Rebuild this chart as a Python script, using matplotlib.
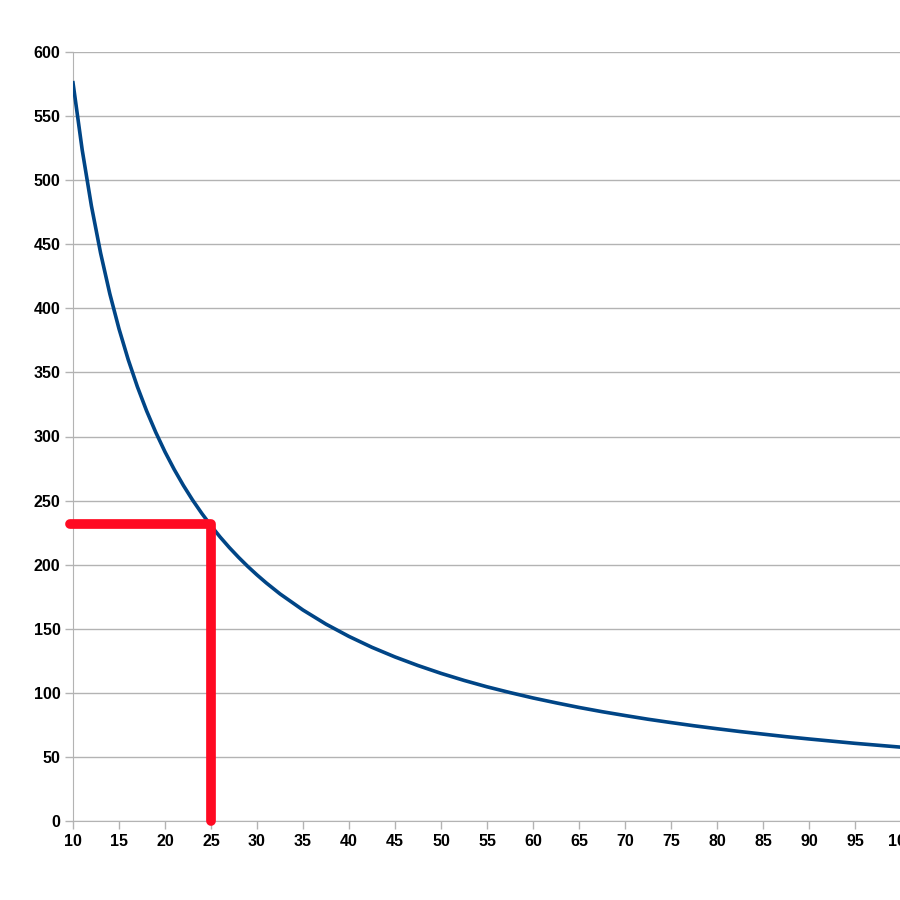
import matplotlib.pyplot as plt

# data
x_vals = [10, 11, 12, 13, 14, 15, 16, 17, 18, 19, 20, 21, 22, 23, 24, 25, 26, 27, 28, 29,
          30, 31, 32.5, 35, 37.5, 40, 42.5, 45, 47.5, 50, 52.5, 55, 57.5, 60, 62.5,
          65, 67.5, 70, 72.5, 75, 77.5, 80, 82.5, 85, 87.5, 90, 92.5, 95, 97.5, 100]
y_vals = [576, 523.6, 480, 443.1, 411.4, 384, 360, 338.8, 320, 303.2, 288, 274.3, 261.8,
          250.4, 240, 230.4, 221.5, 213.3, 205.7, 198.6, 192, 185.8, 177.2, 164.6, 153.6,
          144, 135.5, 128, 121.3, 115.2, 109.7, 104.7, 100.2, 96, 92.2, 88.6, 85.3, 82.3,
          79.4, 76.8, 74.3, 72, 69.8, 67.8, 65.8, 64, 62.3, 60.6, 59.1, 57.6]
mark_x = 25
mark_y = 232
x_ticks = list(range(10, 101, 5))
y_ticks = list(range(0, 601, 50))

plt.rcParams['font.family'] = ['Liberation Sans', 'DejaVu Sans']

fig = plt.figure(figsize=(9, 9), dpi=100)
ax = fig.add_axes([73 / 900, 79 / 900, 828 / 900, 769 / 900])

ax.plot(x_vals, y_vals, color='#004586', lw=2.6, zorder=3)

# red guide lines
ax.plot([9.7, mark_x, mark_x], [mark_y, mark_y, 0], color='#ff0a22', lw=7,
        solid_capstyle='round', solid_joinstyle='round', zorder=4, clip_on=False)

ax.set_xlim(10, 100)
ax.set_ylim(0, 600)
ax.set_xticks(x_ticks)
ax.set_yticks(y_ticks)
ax.tick_params(axis='both', colors='#b3b3b3', labelcolor='black', labelsize=11.5,
               length=6, width=1, direction='out', pad=3)
for lab in ax.get_xticklabels() + ax.get_yticklabels():
    lab.set_fontweight('bold')

ax.grid(axis='y', color='#b3b3b3', lw=1)
ax.set_axisbelow(True)
for side in ['top', 'right']:
    ax.spines[side].set_visible(False)
for side in ['left', 'bottom']:
    ax.spines[side].set_color('#b3b3b3')

fig.savefig('out.png', dpi=100)
